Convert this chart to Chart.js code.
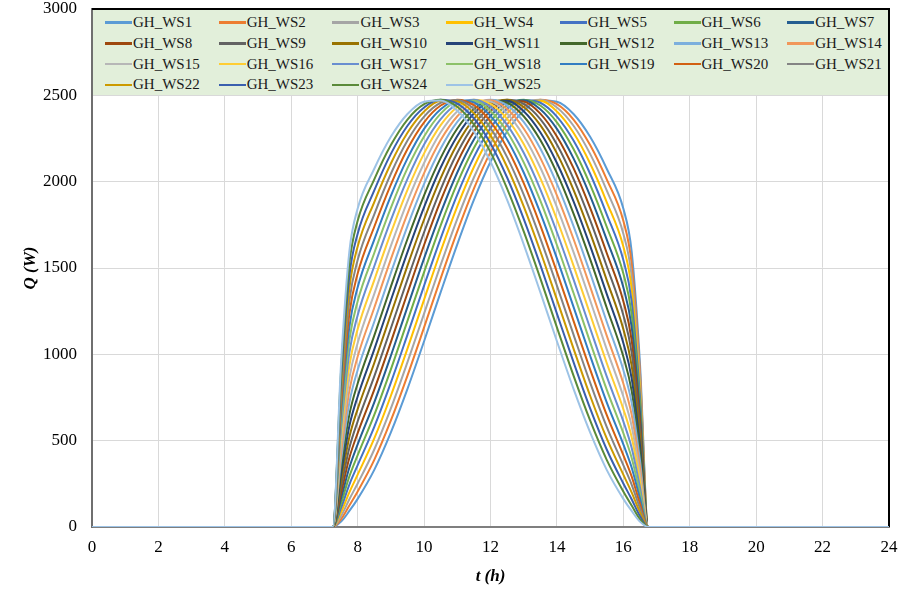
<!DOCTYPE html>
<html>
<head>
<meta charset="utf-8">
<script src="https://cdn.jsdelivr.net/npm/chart.js@4.4.1/dist/chart.umd.min.js"></script>
<style>
  body { margin: 0; background: #fff; }
  #wrap { position: relative; width: 902px; height: 589px; }
  #legend {
    position: absolute;
    background: #e2efda;
    font: 15px "Liberation Serif", "Times New Roman", serif;
    color: #1a1a1a;
  }
  #legend .item { position: absolute; height: 20px; display: flex; align-items: center; white-space: nowrap; }
  #legend .swatch { width: 27px; height: 2.5px; margin-right: 1px; }
</style>
</head>
<body>
<div id="wrap">
  <canvas id="chart" width="902" height="589"></canvas>
  <div id="legend"></div>
</div>
<script>
const SERIF = '"Liberation Serif", "Times New Roman", serif';

// hours of the day
const HOURS = [0, 7.25, 7.5, 7.75, 8, 8.5, 9, 9.5, 10, 10.5, 11, 11.5, 12, 12.5, 13, 13.5, 14, 14.5, 15, 15.5, 16, 16.25, 16.5, 16.75, 24];

const NAMES = [
  "GH_WS1", "GH_WS2", "GH_WS3", "GH_WS4", "GH_WS5", "GH_WS6", "GH_WS7",
  "GH_WS8", "GH_WS9", "GH_WS10", "GH_WS11", "GH_WS12", "GH_WS13", "GH_WS14",
  "GH_WS15", "GH_WS16", "GH_WS17", "GH_WS18", "GH_WS19", "GH_WS20", "GH_WS21",
  "GH_WS22", "GH_WS23", "GH_WS24", "GH_WS25",
];

const COLORS = [
  "#5b9bd5", "#ed7d31", "#a5a5a5", "#ffc000", "#4472c4", "#70ad47", "#255e91",
  "#9e480e", "#636363", "#997300", "#264478", "#43682b", "#7cafdd", "#f1975a",
  "#b7b7b7", "#ffcd33", "#698ed0", "#8cc168", "#327dc2", "#d26012", "#848484",
  "#cc9a00", "#3a5fae", "#5a8a39", "#9dc3e6",
];

// Q (W) per series, one value per entry of HOURS
const WS1  = [0, 0, 31, 93, 163, 331, 548, 800, 1076, 1360, 1637, 1894, 2115, 2291, 2411, 2470, 2463, 2392, 2260, 2075, 1844, 1596, 950, 0, 0];
const WS2  = [0, 0, 46, 125, 206, 389, 617, 877, 1156, 1440, 1712, 1960, 2171, 2331, 2434, 2475, 2449, 2360, 2212, 2013, 1773, 1526, 902, 0, 0];
const WS3  = [0, 0, 64, 161, 252, 449, 687, 955, 1236, 1518, 1785, 2024, 2221, 2366, 2452, 2474, 2430, 2324, 2161, 1949, 1699, 1455, 856, 0, 0];
const WS4  = [0, 0, 86, 201, 303, 513, 760, 1033, 1317, 1597, 1857, 2085, 2268, 2397, 2465, 2468, 2406, 2283, 2105, 1882, 1624, 1382, 808, 0, 0];
const WS5  = [0, 0, 110, 246, 358, 580, 836, 1114, 1398, 1672, 1925, 2142, 2310, 2422, 2473, 2457, 2377, 2238, 2046, 1811, 1546, 1308, 759, 0, 0];
const WS6  = [0, 0, 136, 293, 416, 649, 913, 1194, 1476, 1747, 1991, 2195, 2348, 2443, 2475, 2441, 2344, 2189, 1983, 1739, 1468, 1234, 710, 0, 0];
const WS7  = [0, 0, 166, 345, 479, 722, 992, 1275, 1556, 1819, 2053, 2244, 2381, 2459, 2472, 2420, 2306, 2135, 1918, 1664, 1388, 1159, 662, 0, 0];
const WS8  = [0, 0, 197, 401, 544, 796, 1071, 1355, 1633, 1890, 2112, 2289, 2409, 2469, 2464, 2394, 2262, 2078, 1848, 1587, 1308, 1083, 614, 0, 0];
const WS9  = [0, 0, 231, 459, 612, 872, 1151, 1434, 1707, 1956, 2167, 2329, 2433, 2475, 2450, 2362, 2215, 2016, 1777, 1510, 1227, 1010, 568, 0, 0];
const WS10 = [0, 0, 267, 521, 683, 950, 1232, 1514, 1781, 2020, 2218, 2364, 2451, 2475, 2432, 2327, 2164, 1953, 1703, 1430, 1146, 935, 521, 0, 0];
const WS11 = [0, 0, 305, 585, 756, 1029, 1313, 1592, 1853, 2082, 2265, 2395, 2464, 2469, 2408, 2286, 2108, 1886, 1628, 1350, 1066, 862, 475, 0, 0];
const WS12 = [0, 0, 346, 651, 831, 1108, 1392, 1668, 1921, 2138, 2308, 2421, 2472, 2458, 2379, 2241, 2049, 1815, 1551, 1270, 987, 790, 430, 0, 0];
const WS13 = [0, 0, 387, 720, 909, 1189, 1472, 1743, 1987, 2192, 2346, 2442, 2475, 2442, 2346, 2192, 1987, 1743, 1472, 1189, 909, 720, 387, 0, 0];
const WS14 = [0, 0, 430, 790, 987, 1270, 1551, 1815, 2049, 2241, 2379, 2458, 2472, 2421, 2308, 2138, 1921, 1668, 1392, 1108, 831, 651, 346, 0, 0];
const WS15 = [0, 0, 475, 862, 1066, 1350, 1628, 1886, 2108, 2286, 2408, 2469, 2464, 2395, 2265, 2082, 1853, 1592, 1313, 1029, 756, 585, 305, 0, 0];
const WS16 = [0, 0, 521, 935, 1146, 1430, 1703, 1953, 2164, 2327, 2432, 2475, 2451, 2364, 2218, 2020, 1781, 1514, 1232, 950, 683, 521, 267, 0, 0];
const WS17 = [0, 0, 568, 1010, 1227, 1510, 1777, 2016, 2215, 2362, 2450, 2475, 2433, 2329, 2167, 1956, 1707, 1434, 1151, 872, 612, 459, 231, 0, 0];
const WS18 = [0, 0, 614, 1083, 1308, 1587, 1848, 2078, 2262, 2394, 2464, 2469, 2409, 2289, 2112, 1890, 1633, 1355, 1071, 796, 544, 401, 197, 0, 0];
const WS19 = [0, 0, 662, 1159, 1388, 1664, 1918, 2135, 2306, 2420, 2472, 2459, 2381, 2244, 2053, 1819, 1556, 1275, 992, 722, 479, 345, 166, 0, 0];
const WS20 = [0, 0, 710, 1234, 1468, 1739, 1983, 2189, 2344, 2441, 2475, 2443, 2348, 2195, 1991, 1747, 1476, 1194, 913, 649, 416, 293, 136, 0, 0];
const WS21 = [0, 0, 759, 1308, 1546, 1811, 2046, 2238, 2377, 2457, 2473, 2422, 2310, 2142, 1925, 1672, 1398, 1114, 836, 580, 358, 246, 110, 0, 0];
const WS22 = [0, 0, 808, 1382, 1624, 1882, 2105, 2283, 2406, 2468, 2465, 2397, 2268, 2085, 1857, 1597, 1317, 1033, 760, 513, 303, 201, 86, 0, 0];
const WS23 = [0, 0, 856, 1455, 1699, 1949, 2161, 2324, 2430, 2474, 2452, 2366, 2221, 2024, 1785, 1518, 1236, 955, 687, 449, 252, 161, 64, 0, 0];
const WS24 = [0, 0, 902, 1526, 1773, 2013, 2212, 2360, 2449, 2475, 2434, 2331, 2171, 1960, 1712, 1440, 1156, 877, 617, 389, 206, 125, 46, 0, 0];
const WS25 = [0, 0, 950, 1596, 1844, 2075, 2260, 2392, 2463, 2470, 2411, 2291, 2115, 1894, 1637, 1360, 1076, 800, 548, 331, 163, 93, 31, 0, 0];

const SERIES = [WS1, WS2, WS3, WS4, WS5, WS6, WS7, WS8, WS9, WS10, WS11, WS12, WS13,
  WS14, WS15, WS16, WS17, WS18, WS19, WS20, WS21, WS22, WS23, WS24, WS25];

const X_TICKS = [0, 2, 4, 6, 8, 10, 12, 14, 16, 18, 20, 22, 24];
const Y_TICKS = [0, 500, 1000, 1500, 2000, 2500, 3000];

// black frame on the top and right of the plot area
const frame = {
  id: "frame",
  beforeDatasetsDraw(chart) {
    const { ctx, chartArea: a } = chart;
    ctx.save();
    ctx.strokeStyle = "#000";
    ctx.lineWidth = 2;
    ctx.beginPath();
    ctx.moveTo(a.left, a.top);
    ctx.lineTo(a.right, a.top);
    ctx.lineTo(a.right, a.bottom);
    ctx.stroke();
    ctx.restore();
  },
};

const tickFont = { family: SERIF, size: 17 };
const titleFont = { family: SERIF, size: 17, style: "italic", weight: "bold" };

const chart = new Chart(document.getElementById("chart"), {
  type: "line",
  data: {
    datasets: SERIES.map((vals, i) => ({
      label: NAMES[i],
      data: HOURS.map((h, j) => ({ x: h, y: vals[j] })),
      borderColor: COLORS[i],
      backgroundColor: COLORS[i],
      borderWidth: 2,
      pointRadius: 0,
      cubicInterpolationMode: "monotone",
      order: SERIES.length - 1 - i,
    })),
  },
  options: {
    responsive: false,
    animation: false,
    events: [],
    layout: { padding: { top: 0, right: 13, left: 0, bottom: 0 } },
    plugins: { legend: { display: false }, tooltip: { enabled: false } },
    scales: {
      x: {
        type: "linear",
        min: X_TICKS[0],
        max: X_TICKS[X_TICKS.length - 1],
        afterBuildTicks: (s) => { s.ticks = X_TICKS.map((v) => ({ value: v })); },
        ticks: { color: "#000", font: tickFont, padding: 10, maxRotation: 0, callback: (v) => String(v) },
        grid: { color: "#d9d9d9", lineWidth: 1, drawTicks: false },
        border: { color: "#7f7f7f", width: 2 },
        title: { display: true, text: "t (h)", color: "#000", font: titleFont, padding: { top: 0, bottom: 2 } },
        afterFit: (s) => { s.height = 62; s.paddingLeft = 0; s.paddingRight = 9; },
      },
      y: {
        min: Y_TICKS[0],
        max: Y_TICKS[Y_TICKS.length - 1],
        afterBuildTicks: (s) => { s.ticks = Y_TICKS.map((v) => ({ value: v })); },
        ticks: { color: "#000", font: tickFont, padding: 15, callback: (v) => String(v) },
        grid: { color: "#d9d9d9", lineWidth: 1, drawTicks: false },
        border: { color: "#6f6f6f", width: 2 },
        title: { display: true, text: "Q (W)", color: "#000", font: titleFont, padding: { top: 20, bottom: 0 } },
        afterFit: (s) => { s.width = 92; s.paddingTop = 9; s.paddingBottom = 9; },
      },
    },
  },
  plugins: [frame],
});

function buildLegend() {
  const a = chart.chartArea;
  const bottom = chart.scales.y.getPixelForValue(2500);
  const box = document.getElementById("legend");
  box.style.left = a.left + 1 + "px";
  box.style.top = a.top + 1 + "px";
  box.style.width = a.right - a.left - 2 + "px";
  box.style.height = bottom - a.top - 1.5 + "px";
  box.innerHTML = NAMES.map((name, i) => {
    const col = i % 7;
    const row = Math.floor(i / 7);
    const left = 12 + col * 113.7;
    const top = 2.5 + row * 20.8;
    return `<div class="item" style="left:${left}px;top:${top}px"><span class="swatch" style="background:${COLORS[i]}"></span>${name}</div>`;
  }).join("");
}

buildLegend();
</script>
</body>
</html>
